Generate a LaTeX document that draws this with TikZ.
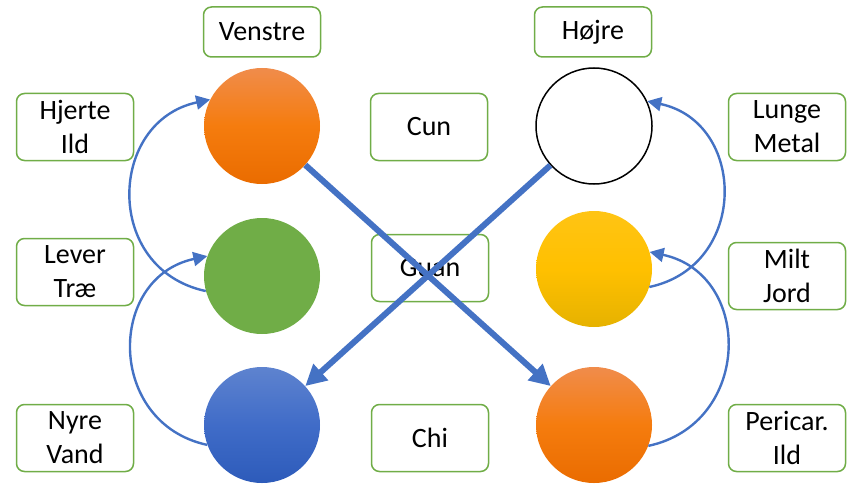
\documentclass[tikz,border=0pt]{standalone}
\usepackage{fontspec}
\setmainfont{Carlito}
\usepackage{tikz}
\usetikzlibrary{arrows.meta, positioning}

\definecolor{linkblue}{HTML}{4472C4}
\definecolor{boxgreen}{HTML}{70AD47}

\tikzset{
  pulse/.style={circle, minimum size=116pt, inner sep=0pt},
  pulse orange/.style={top color={rgb,255:red,240;green,140;blue,75}, bottom color={rgb,255:red,234;green,108;blue,0}, middle color={rgb,255:red,245;green,124;blue,14}},
  pulse green/.style={fill=boxgreen},
  pulse blue/.style={top color={rgb,255:red,94;green,131;blue,207}, bottom color={rgb,255:red,45;green,91;blue,186}, middle color={rgb,255:red,64;green,108;blue,200}},
  pulse white/.style={fill=white, draw=black, line width=1.5pt},
  pulse yellow/.style={top color={rgb,255:red,255;green,196;blue,20}, bottom color={rgb,255:red,230;green,178;blue,0}, middle color={rgb,255:red,255;green,192;blue,0}},
  label box/.style={draw=boxgreen, line width=1.5pt, rounded corners=8pt, fill=white,
    minimum width=117pt, minimum height=67pt, inner sep=0pt, align=center,
    font=\fontsize{28}{34}\selectfont},
  side box/.style={label box, minimum height=50pt},
  flow/.style={linkblue, line width=6pt, -{Triangle[length=21pt,width=21pt]}},
  feed/.style={linkblue, line width=2.4pt, -{Triangle[length=14pt,width=14pt]}, looseness=1.4},
}

\begin{document}
\begin{tikzpicture}[x=1pt, y=1pt]

    \useasboundingbox (0,0) rectangle (858,483);

    % pulses, left and right wrist
    \foreach \c/\h [count=\y] in {orange/357, green/207, blue/58}
      \node [pulse, pulse \c] (venstre-\y) at (262,\h) {};

    \foreach \c/\h [count=\y] in {white/357, yellow/214, orange/58}
      \node [pulse, pulse \c] (hojre-\y) at (594,\h) {};

    % labels
    \node [side box] (head-venstre) at (262,451) {Venstre};
    \node [side box] (head-hojre) at (593,451) {Højre};

    \node [label box] (organ-hjerte) at (75,356) {Hjerte\\Ild};
    \node [label box] (organ-lever) at (75,211) {Lever\\Træ};
    \node [label box] (organ-nyre) at (75,45) {Nyre\\Vand};

    \node [label box] (pos-cun) at (429,356) {Cun};
    \node [label box] (pos-guan) at (430,215) {Guan};
    \node [label box] (pos-chi) at (430,45) {Chi};

    \node [label box] (organ-lunge) at (787,356) {Lunge\\Metal};
    \node [label box] (organ-milt) at (787,207) {Milt\\Jord};
    \node [label box] (organ-peri) at (787,45) {Pericar.\\Ild};

    % crossing
    \draw [flow] (venstre-1) -- (hojre-3);
    \draw [flow] (hojre-1) -- (venstre-3);

    % cycles
    \draw [feed] (venstre-2.195) to [out=168, in=192] (venstre-1.153);
    \draw [feed] (venstre-3.200) to [out=168, in=192] (venstre-2.160);

    \draw [feed] (hojre-2.-18) to [out=12, in=-12] (hojre-1.25);
    \draw [feed] (hojre-3.-21) to [out=12, in=-12] (hojre-2.17);

\end{tikzpicture}
\end{document}
